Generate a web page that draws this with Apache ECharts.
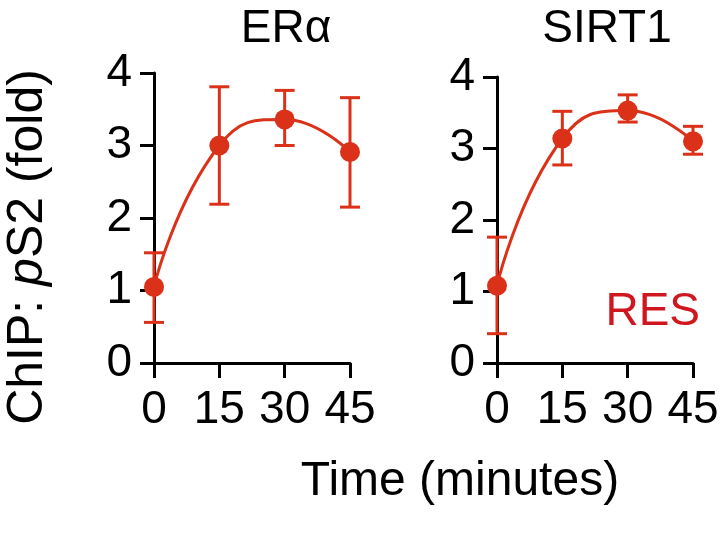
<!DOCTYPE html>
<html>
<head>
<meta charset="utf-8">
<script src="https://cdn.jsdelivr.net/npm/echarts@6/dist/echarts.min.js"></script>
<style>html,body{margin:0;padding:0;background:#fff}#c{width:722px;height:533px}</style>
</head>
<body>
<div id="c"></div>
<script>
const times = [0, 15, 30, 45];
const xTicks = [0, 15, 30, 45];
const yTicks = [0, 1, 2, 3, 4];
const panelTitles = ['ERα', 'SIRT1'];
const eraMean = [1.05, 3.0, 3.36, 2.91];
const eraLow = [0.56, 2.19, 3.0, 2.15];
const eraHigh = [1.52, 3.81, 3.76, 3.66];
const sirtMean = [1.08, 3.14, 3.53, 3.10];
const sirtLow = [0.41, 2.77, 3.37, 2.92];
const sirtHigh = [1.76, 3.52, 3.75, 3.31];

const FONT = "'Liberation Sans', Arial, sans-serif";
const RED = '#db3118';

function axisX(gi) {
  return {
    type: 'value', gridIndex: gi, min: xTicks[0], max: xTicks[xTicks.length - 1], interval: 15,
    axisLine: { show: true, onZero: false, lineStyle: { color: '#000', width: 3 } },
    axisTick: { show: true, inside: false, length: 15, lineStyle: { color: '#000', width: 3 } },
    axisLabel: { color: '#000', fontSize: 46, fontFamily: FONT, margin: 24, showMinLabel: true, showMaxLabel: true },
    splitLine: { show: false }
  };
}
function axisY(gi) {
  return {
    type: 'value', gridIndex: gi, min: yTicks[0], max: yTicks[yTicks.length - 1], interval: 1,
    axisLine: { show: true, lineStyle: { color: '#000', width: 3 } },
    axisTick: { show: true, inside: false, length: 14, lineStyle: { color: '#000', width: 3 } },
    axisLabel: { color: '#000', fontSize: 46, fontFamily: FONT, margin: 22 },
    splitLine: { show: false }
  };
}
function lineSeries(gi, mean) {
  return {
    type: 'line', xAxisIndex: gi, yAxisIndex: gi, smooth: 0.5, clip: false,
    data: times.map((t, i) => [t, mean[i]]),
    symbol: 'circle', symbolSize: 20,
    itemStyle: { color: RED },
    lineStyle: { color: RED, width: 3 },
    z: 3
  };
}
function errSeries(gi, low, high) {
  return {
    type: 'custom', xAxisIndex: gi, yAxisIndex: gi, clip: false,
    data: times.map((t, i) => [t, low[i], high[i]]),
    renderItem: function (params, api) {
      const x = api.value(0);
      const pLo = api.coord([x, api.value(1)]);
      const pHi = api.coord([x, api.value(2)]);
      const hw = 10;
      const st = { stroke: RED, lineWidth: 3 };
      return {
        type: 'group',
        children: [
          { type: 'line', shape: { x1: pLo[0], y1: pLo[1], x2: pHi[0], y2: pHi[1] }, style: st },
          { type: 'line', shape: { x1: pHi[0] - hw, y1: pHi[1], x2: pHi[0] + hw, y2: pHi[1] }, style: st },
          { type: 'line', shape: { x1: pLo[0] - hw, y1: pLo[1], x2: pLo[0] + hw, y2: pLo[1] }, style: st }
        ]
      };
    },
    z: 2
  };
}

const chart = echarts.init(document.getElementById('c'), null, { renderer: 'canvas' });
chart.setOption({
  animation: false,
  backgroundColor: '#fff',
  title: [
    { text: panelTitles[0], left: 281, top: 1, textAlign: 'center', textStyle: { fontSize: 46, fontWeight: 'normal', fontFamily: FONT, color: '#000' } },
    { text: panelTitles[1], left: 602, top: 1, textAlign: 'center', textStyle: { fontSize: 46, fontWeight: 'normal', fontFamily: FONT, color: '#000' } }
  ],
  grid: [
    { left: 154, top: 73, width: 196, height: 290 },
    { left: 497, top: 77, width: 196, height: 286 }
  ],
  xAxis: [axisX(0), axisX(1)],
  yAxis: [axisY(0), axisY(1)],
  graphic: [
    {
      type: 'text', x: 28, y: 247, rotation: Math.PI / 2,
      style: {
        text: '{a|ChIP: }{b|p}{a|S2 (fold)}',
        align: 'center', verticalAlign: 'middle',
        rich: {
          a: { fontSize: 50, fontFamily: FONT, fill: '#000' },
          b: { fontSize: 50, fontFamily: FONT, fontStyle: 'italic', fill: '#000' }
        }
      }
    },
    { type: 'text', x: 460, y: 482, style: { text: 'Time (minutes)', fontSize: 48, fontFamily: FONT, fill: '#000', align: 'center', verticalAlign: 'middle' } },
    { type: 'text', x: 700, y: 312, style: { text: 'RES', fontSize: 46, fontFamily: FONT, fill: '#d0161e', align: 'right', verticalAlign: 'middle' } }
  ],
  series: [
    errSeries(0, eraLow, eraHigh), lineSeries(0, eraMean),
    errSeries(1, sirtLow, sirtHigh), lineSeries(1, sirtMean)
  ]
});
</script>
</body>
</html>
